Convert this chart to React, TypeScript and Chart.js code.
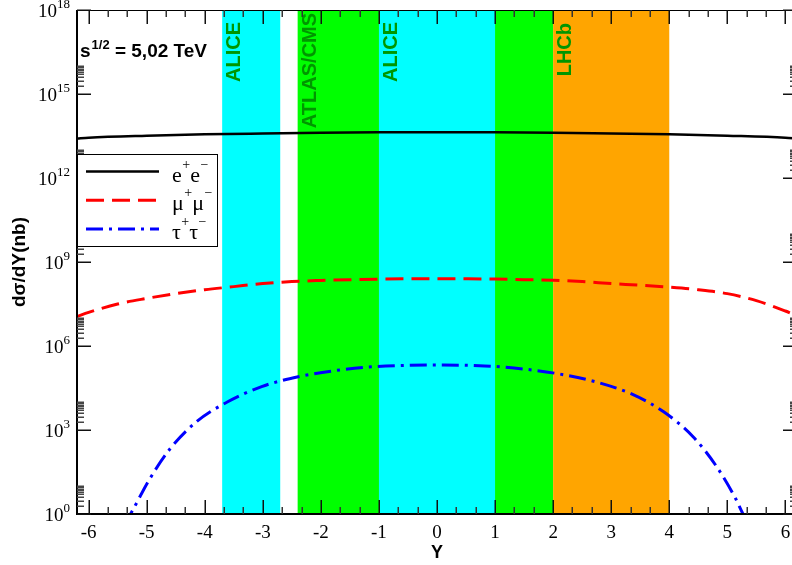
import React, { useEffect, useRef } from "react";
import { Chart, registerables } from "chart.js";
Chart.register(...registerables);

// ---------- data ----------
const rapidityEE = [-6.2, -6, -5, -4, -3, -2, -1, 0, 1, 2, 3, 4, 5, 6, 6.2];
const sigmaEE = [2.57e13, 2.75e13, 3.24e13, 3.63e13, 3.89e13, 4.12e13, 4.27e13, 4.32e13, 4.27e13, 4.12e13, 3.89e13, 3.67e13, 3.24e13, 2.75e13, 2.57e13];

const rapidityMuMu = [-6.2, -6, -5.5, -5, -4.5, -4, -3.5, -3, -2.5, -2, -1.5, -1, -0.5, 0, 0.5, 1, 1.5, 2, 2.5, 3, 3.5, 4, 4.5, 5, 5.5, 6, 6.2];
const sigmaMuMu = [1.12e7, 1.58e7, 3.16e7, 5.01e7, 7.41e7, 1.02e8, 1.32e8, 1.7e8, 2.0e8, 2.19e8, 2.34e8, 2.45e8, 2.51e8, 2.54e8, 2.51e8, 2.45e8, 2.34e8, 2.24e8, 2.0e8, 1.7e8, 1.48e8, 1.26e8, 1.02e8, 7.41e7, 4.17e7, 1.78e7, 1.2e7];

const rapidityTauTau = [-5.4, -5.27, -4.96, -4.6, -4.14, -3.62, -3.02, -2.39, -1.76, -1.1, -0.5, 0, 0.82, 1.48, 2.11, 2.75, 3.35, 3.91, 4.41, 4.81, 5.14, 5.27, 5.4];
const sigmaTauTau = [0.398, 1.07, 16.2, 209, 1995, 9772, 35481, 79433, 131826, 181970, 204174, 208930, 194984, 151356, 100000, 51286, 19498, 4365, 575, 51.3, 3.63, 1.0, 0.316];

const bandNames = ["ALICE", "ATLAS/CMS", "ALICE", "LHCb"];
const bandFrom = [-3.7, -2.4, -1, 2];
const bandTo = [-2.7, 2, 1, 4];
const bandColors = ["#00ffff", "#00ff00", "#00ffff", "#ffa500"];

const xTickValues = [-6, -5, -4, -3, -2, -1, 0, 1, 2, 3, 4, 5, 6];
const yTickExponents = [0, 3, 6, 9, 12, 15, 18];

const legendLabels: [string, string, string, string][] = [
  ["e", "+", "e", "\u2212"],
  ["\u03bc", "+", "\u03bc", "\u2212"],
  ["\u03c4", "+", "\u03c4", "\u2212"],
];

const energyLabel = ["s", "1/2", " = 5,02 TeV"];
const xTitle = "Y";
const yTitle = "d\u03c3/dY(nb)";

// ---------- styles ----------
const seriesStyles = [
  { color: "#000000", width: 2.5, dash: [] as number[] },
  { color: "#ff0000", width: 3, dash: [18, 8] },
  { color: "#0000ff", width: 3, dash: [17, 6, 3, 6] },
];

const serif = '"Liberation Serif", "DejaVu Serif", serif';
const sans = '"Liberation Sans", Arial, sans-serif';

const toPoints = (xs: number[], ys: number[]) => xs.map((x, i) => ({ x, y: ys[i] }));

const decorPlugin = {
  id: "decor",
  beforeDatasetsDraw(chart: any) {
    const ctx: CanvasRenderingContext2D = chart.ctx;
    const xs = chart.scales.x;
    const { top, bottom } = chart.chartArea;
    const labelTops = [22, 13, 22, 23];
    ctx.save();
    bandNames.forEach((_, i) => {
      const x0 = xs.getPixelForValue(bandFrom[i]);
      const x1 = xs.getPixelForValue(bandTo[i]);
      ctx.fillStyle = bandColors[i];
      ctx.fillRect(x0, top, x1 - x0, bottom - top);
    });
    ctx.fillStyle = "#009600";
    ctx.font = `bold 20px ${sans}`;
    bandNames.forEach((name, i) => {
      const x0 = xs.getPixelForValue(bandFrom[i]);
      ctx.save();
      ctx.translate(x0 + 18, labelTops[i]);
      ctx.rotate(-Math.PI / 2);
      ctx.textAlign = "right";
      ctx.textBaseline = "alphabetic";
      ctx.fillText(name, 0, 0);
      ctx.restore();
    });
    ctx.restore();
  },
  afterDatasetsDraw(chart: any) {
    const ctx: CanvasRenderingContext2D = chart.ctx;
    const xs = chart.scales.x;
    const ys = chart.scales.y;
    const { left, right, top, bottom } = chart.chartArea;
    ctx.save();
    const line = (x0: number, y0: number, x1: number, y1: number) => {
      ctx.beginPath();
      ctx.moveTo(x0, y0);
      ctx.lineTo(x1, y1);
      ctx.stroke();
    };
    // frame
    ctx.strokeStyle = "#000";
    ctx.lineWidth = 1;
    line(left, top + 0.5, right, top + 0.5);
    line(right - 0.5, top, right - 0.5, bottom);
    ctx.lineWidth = 2;
    line(left, top, left, bottom + 1);
    line(left - 1, bottom, right, bottom);

    // x ticks
    ctx.lineWidth = 1.5;
    ctx.strokeStyle = "#111";
    xTickValues.forEach((v) => {
      const p = Math.round(xs.getPixelForValue(v)) + 0.25;
      line(p, bottom, p, bottom - 14);
      line(p, top, p, top + 14);
    });
    ctx.strokeStyle = "#333";
    for (let i = -7; i <= 6; i++) {
      for (const f of [1 / 3, 2 / 3]) {
        const v = i + f;
        if (v < xs.min || v > xs.max) continue;
        const p = Math.round(xs.getPixelForValue(v)) + 0.25;
        line(p, bottom, p, bottom - 7);
        line(p, top, p, top + 7);
      }
    }
    // y ticks
    ctx.strokeStyle = "#111";
    yTickExponents.forEach((e) => {
      const p = Math.round(ys.getPixelForValue(Math.pow(10, e))) + 0.25;
      line(left, p, left + 14, p);
      line(right, p, right - 14, p);
      if (e < 18) {
        ctx.strokeStyle = "#444";
        for (let m = 2; m <= 10; m++) {
          const q = Math.round(ys.getPixelForValue(m * Math.pow(10, e))) + 0.25;
          line(left, q, left + 7, q);
          line(right, q, right - 7, q);
        }
        ctx.strokeStyle = "#111";
      }
    });

    // x tick labels
    ctx.fillStyle = "#000";
    ctx.font = `19px ${serif}`;
    ctx.textAlign = "center";
    ctx.textBaseline = "alphabetic";
    xTickValues.forEach((v) => {
      const p = xs.getPixelForValue(v);
      ctx.fillText(v < 0 ? `-${Math.abs(v)}` : `${v}`, p, bottom + 24);
    });
    // y tick labels
    yTickExponents.forEach((e) => {
      const p = ys.getPixelForValue(Math.pow(10, e));
      ctx.font = `13px ${serif}`;
      const ew = ctx.measureText(`${e}`).width;
      const xEnd = 70;
      ctx.textAlign = "left";
      ctx.fillText(`${e}`, xEnd - ew, p - 2);
      ctx.font = `19px ${serif}`;
      ctx.textAlign = "right";
      ctx.fillText("10", xEnd - ew, p + 7);
    });

    // axis titles
    ctx.font = `bold 18px ${sans}`;
    ctx.textAlign = "center";
    ctx.fillText(xTitle, xs.getPixelForValue(0), bottom + 44);
    ctx.save();
    ctx.font = `bold 19px ${sans}`;
    ctx.translate(25, (top + bottom) / 2);
    ctx.rotate(-Math.PI / 2);
    ctx.fillText(yTitle, 0, 0);
    ctx.restore();

    // energy label
    ctx.textAlign = "left";
    ctx.font = `bold 19px ${sans}`;
    let x = 80;
    ctx.fillText(energyLabel[0], x, 57);
    x += ctx.measureText(energyLabel[0]).width + 1;
    ctx.font = `bold 13px ${sans}`;
    ctx.fillText(energyLabel[1], x, 49);
    x += ctx.measureText(energyLabel[1]).width;
    ctx.font = `bold 19px ${sans}`;
    ctx.fillText(energyLabel[2], x, 57);

    // legend
    const bx0 = left, by0 = 154, bx1 = 218, by1 = 247;
    ctx.fillStyle = "#fff";
    ctx.fillRect(bx0, by0, bx1 - bx0, by1 - by0);
    ctx.strokeStyle = "#000";
    ctx.lineWidth = 1;
    ctx.strokeRect(bx0 + 0.5, by0 + 0.5, bx1 - bx0 - 1, by1 - by0 - 1);
    legendLabels.forEach((lab, i) => {
      const y = 171.5 + i * 28.7;
      const st = seriesStyles[i];
      ctx.strokeStyle = st.color;
      ctx.lineWidth = st.width;
      ctx.setLineDash(st.dash);
      line(86, y, 159, y);
      ctx.setLineDash([]);
      ctx.fillStyle = "#000";
      let tx = 172;
      lab.forEach((s, k) => {
        const sup = k % 2 === 1;
        ctx.font = sup ? `14px ${serif}` : `22px ${serif}`;
        ctx.fillText(s, tx, sup ? y - 3 : y + 10);
        tx += ctx.measureText(s).width + (sup ? 0 : 0.5);
      });
    });
    ctx.restore();
  },
};

export default function App() {
  const ref = useRef<HTMLCanvasElement>(null);
  useEffect(() => {
    document.body.style.margin = "0";
    const mk = (xs: number[], ys: number[], i: number) => ({
      data: toPoints(xs, ys),
      borderColor: seriesStyles[i].color,
      borderWidth: seriesStyles[i].width,
      borderDash: seriesStyles[i].dash,
      pointRadius: 0,
      fill: false,
      cubicInterpolationMode: "monotone" as const,
    });
    const chart = new Chart(ref.current!, {
      type: "line",
      data: {
        datasets: [
          mk(rapidityEE, sigmaEE, 0),
          mk(rapidityMuMu, sigmaMuMu, 1),
          mk(rapidityTauTau, sigmaTauTau, 2),
        ],
      },
      options: {
        animation: false,
        responsive: false,
        devicePixelRatio: 1,
        layout: { padding: { left: 77, right: 3, top: 10, bottom: 51 } },
        scales: {
          x: { type: "linear", min: -6.2, max: 6.2, display: false },
          y: { type: "logarithmic", min: 1, max: 1e18, display: false },
        },
        plugins: { legend: { display: false }, tooltip: { enabled: false } },
      },
      plugins: [decorPlugin],
    });
    return () => chart.destroy();
  }, []);
  return (
    <div style={{ width: 792, height: 565, overflow: "hidden", background: "#fff" }}>
      <canvas ref={ref} width={800} height={565} style={{ display: "block" }} />
    </div>
  );
}
